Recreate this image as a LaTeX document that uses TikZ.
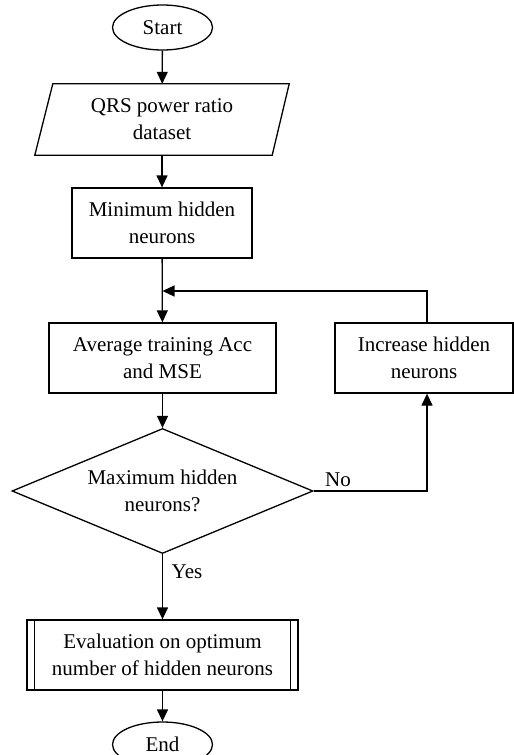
\documentclass[tikz,border=0pt]{standalone}
\usepackage{fontspec}
\setmainfont{Liberation Serif}
\usetikzlibrary{shapes.geometric,arrows.meta}
\begin{document}
\begin{tikzpicture}[x=1pt,y=-1pt,
  lw/.style={line width=1.3pt},
  txt/.style={inner sep=0pt, align=center, font=\fontsize{21}{27}\selectfont},
  stepbox/.style={txt, lw, draw, rectangle},
  term/.style={txt, lw, draw, ellipse, minimum width=100pt, minimum height=45pt},
  decision/.style={txt, lw, draw, diamond, aspect=2.4, minimum width=301pt, minimum height=125pt},
  arr/.style={lw, -{Triangle[length=12pt,width=11pt]}},
  lbl/.style={inner sep=0pt, font=\fontsize{21}{27}\selectfont}
]
\useasboundingbox (0,0) rectangle (514,755);

\node[term] (start) at (162.5,27.5) {Start};
\node[txt, minimum width=254pt, minimum height=71pt] (data) at (162,119.5) {QRS power ratio\\dataset};
\draw[lw] (data.south west) -- ([xshift=18pt]data.north west) -- (data.north east) -- ([xshift=-17pt]data.south east) -- cycle;
\node[stepbox, minimum width=180pt, minimum height=70pt] (minh) at (162,223) {Minimum hidden\\neurons};
\node[stepbox, minimum width=227pt, minimum height=70pt] (avg) at (162.5,358) {Average training Acc\\and MSE};
\node[stepbox, minimum width=178pt, minimum height=70pt] (inc) at (424,358) {Increase hidden\\neurons};
\node[decision] (dec) at (162.5,491) {Maximum hidden\\neurons?};
\node[stepbox, minimum width=271pt, minimum height=70pt] (eval) at (162.5,655) {Evaluation on optimum\\number of hidden neurons};
\draw[lw] ([xshift=8pt]eval.north west) -- ([xshift=8pt]eval.south west);
\draw[lw] ([xshift=-8pt]eval.north east) -- ([xshift=-8pt]eval.south east);
\node[term] (end) at (162.5,744.5) {End};

\coordinate (join) at (162.5,291);

\draw[arr] (start) -- (data);
\draw[arr] (data) -- (minh);
\draw[arr] (minh) -- (avg);
\draw[arr] ([xshift=3pt]inc.north) |- (join);
\draw[arr] (avg) -- (dec);
\draw[arr] (dec.east) -| ([xshift=3pt]inc.south);
\draw[arr] (dec) -- (eval);
\draw[arr] (eval) -- (end);

\node[lbl] (no) at (338,480) {No};
\node[lbl] (yes) at (187,572) {Yes};
\end{tikzpicture}
\end{document}
